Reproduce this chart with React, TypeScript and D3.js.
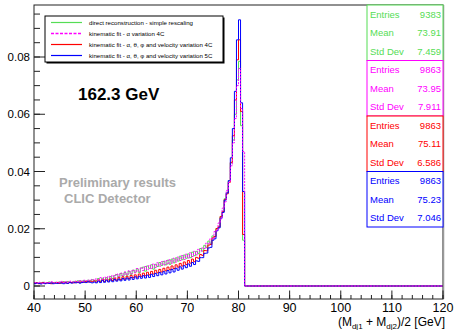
import React from "react";
import * as d3 from "d3";

const W = 454;
const H = 330;
const FONT = "'Liberation Sans', Arial, Helvetica, sans-serif";

// histogram binning (GeV)
const binStart = 40;
const binWidth = 0.4;
const xMax = 120;

// bin contents (normalised), bins of 0.4 GeV starting at 40 GeV
const greenValues = [
  0.0010, 0.0012, 0.0009, 0.0011, 0.0013, 0.0010, 0.0012, 0.0014, 0.0011, 0.0012,
  0.0013, 0.0011, 0.0014, 0.0012, 0.0015, 0.0013, 0.0016, 0.0014, 0.0012, 0.0016,
  0.0015, 0.0018, 0.0014, 0.0017, 0.0019, 0.0016, 0.0020, 0.0018, 0.0022, 0.0019,
  0.0019, 0.0026, 0.0018, 0.0027, 0.0022, 0.0029, 0.0022, 0.0033, 0.0026, 0.0036,
  0.0040, 0.0029, 0.0044, 0.0034, 0.0047, 0.0038, 0.0051, 0.0041, 0.0055, 0.0048,
  0.0060, 0.0047, 0.0063, 0.0066, 0.0052, 0.0070, 0.0062, 0.0074, 0.0059, 0.0076,
  0.0068, 0.0082, 0.0072, 0.0086, 0.0074, 0.0090, 0.0076, 0.0094, 0.0081, 0.0098,
  0.0087, 0.0104, 0.0092, 0.0108, 0.0097, 0.0112, 0.0099, 0.0118, 0.0106, 0.0121,
  0.0113, 0.0131, 0.0122, 0.0142, 0.0134, 0.0157, 0.0149, 0.0175, 0.0172, 0.0201,
  0.0205, 0.0242, 0.0260, 0.0305, 0.0326, 0.0368, 0.0430, 0.0510, 0.0600, 0.0720,
  0.0785, 0.0560, 0.0160,
];
const magentaValues = [
  0.0012, 0.0010, 0.0013, 0.0011, 0.0009, 0.0013, 0.0011, 0.0012, 0.0015, 0.0012,
  0.0011, 0.0014, 0.0013, 0.0016, 0.0012, 0.0015, 0.0013, 0.0017, 0.0015, 0.0014,
  0.0017, 0.0015, 0.0019, 0.0016, 0.0020, 0.0018, 0.0021, 0.0019, 0.0023, 0.0021,
  0.0025, 0.0019, 0.0029, 0.0022, 0.0031, 0.0023, 0.0034, 0.0027, 0.0037, 0.0029,
  0.0042, 0.0033, 0.0045, 0.0036, 0.0049, 0.0040, 0.0053, 0.0043, 0.0056, 0.0046,
  0.0061, 0.0050, 0.0064, 0.0054, 0.0068, 0.0057, 0.0072, 0.0061, 0.0077, 0.0065,
  0.0081, 0.0069, 0.0085, 0.0073, 0.0089, 0.0077, 0.0092, 0.0080, 0.0097, 0.0084,
  0.0101, 0.0089, 0.0106, 0.0093, 0.0111, 0.0098, 0.0116, 0.0103, 0.0121, 0.0109,
  0.0128, 0.0121, 0.0133, 0.0131, 0.0150, 0.0147, 0.0166, 0.0165, 0.0190, 0.0193,
  0.0220, 0.0234, 0.0272, 0.0294, 0.0334, 0.0362, 0.0420, 0.0500, 0.0585, 0.0700,
  0.0760, 0.0620, 0.0470,
];
const redValues = [
  0.0009, 0.0011, 0.0008, 0.0010, 0.0012, 0.0009, 0.0011, 0.0010, 0.0008, 0.0011,
  0.0010, 0.0012, 0.0009, 0.0011, 0.0013, 0.0011, 0.0010, 0.0013, 0.0012, 0.0011,
  0.0014, 0.0012, 0.0013, 0.0015, 0.0013, 0.0016, 0.0014, 0.0017, 0.0015, 0.0018,
  0.0014, 0.0021, 0.0015, 0.0022, 0.0016, 0.0023, 0.0017, 0.0025, 0.0019, 0.0027,
  0.0020, 0.0029, 0.0022, 0.0032, 0.0024, 0.0034, 0.0026, 0.0037, 0.0029, 0.0039,
  0.0031, 0.0042, 0.0034, 0.0045, 0.0036, 0.0048, 0.0039, 0.0051, 0.0042, 0.0055,
  0.0046, 0.0058, 0.0049, 0.0062, 0.0053, 0.0066, 0.0057, 0.0070, 0.0061, 0.0074,
  0.0066, 0.0079, 0.0070, 0.0084, 0.0075, 0.0089, 0.0080, 0.0094, 0.0085, 0.0100,
  0.0097, 0.0110, 0.0107, 0.0124, 0.0123, 0.0143, 0.0145, 0.0168, 0.0173, 0.0201,
  0.0207, 0.0243, 0.0260, 0.0302, 0.0322, 0.0362, 0.0432, 0.0525, 0.0650, 0.0790,
  0.0860, 0.0610, 0.0180,
];
const blueValues = [
  0.0008, 0.0010, 0.0009, 0.0007, 0.0010, 0.0008, 0.0010, 0.0009, 0.0011, 0.0008,
  0.0010, 0.0009, 0.0011, 0.0010, 0.0008, 0.0011, 0.0009, 0.0012, 0.0010, 0.0012,
  0.0011, 0.0013, 0.0010, 0.0012, 0.0014, 0.0012, 0.0015, 0.0013, 0.0011, 0.0014,
  0.0011, 0.0017, 0.0012, 0.0019, 0.0013, 0.0020, 0.0014, 0.0021, 0.0015, 0.0023,
  0.0017, 0.0024, 0.0018, 0.0026, 0.0020, 0.0028, 0.0021, 0.0030, 0.0023, 0.0032,
  0.0025, 0.0034, 0.0027, 0.0036, 0.0028, 0.0038, 0.0030, 0.0041, 0.0033, 0.0044,
  0.0036, 0.0047, 0.0039, 0.0050, 0.0042, 0.0054, 0.0046, 0.0058, 0.0049, 0.0062,
  0.0055, 0.0067, 0.0059, 0.0071, 0.0064, 0.0077, 0.0069, 0.0082, 0.0075, 0.0088,
  0.0086, 0.0099, 0.0099, 0.0114, 0.0115, 0.0133, 0.0135, 0.0160, 0.0165, 0.0193,
  0.0203, 0.0237, 0.0257, 0.0300, 0.0325, 0.0368, 0.0448, 0.0550, 0.0680, 0.0860,
  0.0930, 0.0640, 0.0330,
];

const seriesNames = [
  "direct reconstruction - simple rescaling",
  "kinematic fit - \u03B1 variation 4C",
  "kinematic fit - \u03B1, \u03B8, \u03C6 and velocity variation 4C",
  "kinematic fit - \u03B1, \u03B8, \u03C6 and velocity variation 5C",
];
const seriesColors = ["#55dd55", "#ff00ff", "#ff0000", "#0000ff"];
const seriesDash = [null, "2,1.2", null, null];
const seriesData = [greenValues, magentaValues, redValues, blueValues];

const statLabels = ["Entries", "Mean", "Std Dev"];
const statsGreen = ["9383", "73.91", "7.459"];
const statsMagenta = ["9863", "73.95", "7.911"];
const statsRed = ["9863", "75.11", "6.586"];
const statsBlue = ["9863", "75.23", "7.046"];
const statsAll = [statsGreen, statsMagenta, statsRed, statsBlue];

const xMajorTicks = [40, 50, 60, 70, 80, 90, 100, 110, 120];
const xMinorTicks = d3.range(40, 120.001, 2);
const yMajorTicks = [0, 0.02, 0.04, 0.06, 0.08];
const yMinorTicks = d3.range(0, 0.0981, 0.005);

const frame = { left: 34, right: 443, top: 5, bottom: 299 };

export default function App() {
  const x = d3.scaleLinear().domain([40, xMax]).range([frame.left, frame.right]);
  const y = d3.scaleLinear().domain([-0.00454, 0.09817]).range([frame.bottom, frame.top]);

  const line = d3
    .line<[number, number]>()
    .x((d) => x(d[0]))
    .y((d) => y(d[1]))
    .curve(d3.curveStepAfter);

  const pathFor = (vals: number[]) => {
    const pts: [number, number][] = vals.map((v, i) => [binStart + i * binWidth, v]);
    const endEdge = binStart + vals.length * binWidth;
    pts.push([endEdge, 0]);
    pts.push([xMax, 0]);
    return line(pts) || "";
  };

  const drawOrder = [0, 2, 3, 1];

  const statBoxTop = 5;
  const statBoxH = 55.5;
  const statLeft = 367;
  const statRight = 443;

  return (
    <svg
      width={W}
      height={H}
      style={{ position: "absolute", left: 0, top: 0, background: "#fff" }}
      fontFamily={FONT}
    >
      <rect x={0} y={0} width={W} height={H} fill="#fff" />

      {/* histograms */}
      {drawOrder.map((k) => (
        <path
          key={k}
          d={pathFor(seriesData[k])}
          fill="none"
          stroke={seriesColors[k]}
          strokeWidth={1}
          strokeDasharray={seriesDash[k] || undefined}
        />
      ))}

      {/* frame */}
      <rect
        x={frame.left}
        y={frame.top}
        width={frame.right - frame.left}
        height={frame.bottom - frame.top}
        fill="none"
        stroke="#222"
        strokeWidth={1}
      />
      <line x1={frame.right + 0.5} x2={frame.right + 0.5} y1={frame.top} y2={frame.bottom} stroke="#999" strokeWidth={1.5} />

      {/* x ticks */}
      {xMinorTicks.map((t) => (
        <line key={"xm" + t} x1={x(t)} x2={x(t)} y1={frame.bottom} y2={frame.bottom - 4} stroke="#222" />
      ))}
      {xMajorTicks.map((t) => (
        <line key={"xM" + t} x1={x(t)} x2={x(t)} y1={frame.bottom} y2={frame.bottom - 8.5} stroke="#222" />
      ))}
      {xMajorTicks.map((t) => (
        <text key={"xl" + t} x={x(t)} y={312} fontSize={12.5} textAnchor="middle" fill="#000">
          {t}
        </text>
      ))}

      {/* y ticks */}
      {yMinorTicks.map((t) => (
        <line key={"ym" + t} x1={frame.left} x2={frame.left + 6} y1={y(t)} y2={y(t)} stroke="#222" />
      ))}
      {yMajorTicks.map((t) => (
        <line key={"yM" + t} x1={frame.left} x2={frame.left + 11} y1={y(t)} y2={y(t)} stroke="#222" />
      ))}
      {yMajorTicks.map((t) => (
        <text key={"yl" + t} x={30} y={y(t) + 4} fontSize={11.5} textAnchor="end" fill="#000">
          {t === 0 ? "0" : t.toFixed(2)}
        </text>
      ))}

      {/* x-axis title */}
      <text x={445} y={325.5} fontSize={12} textAnchor="end" fill="#000">
        <tspan>(M</tspan>
        <tspan fontSize={8} dy={3.5}>dj1</tspan>
        <tspan dy={-3.5}> + M</tspan>
        <tspan fontSize={8} dy={3.5}>dj2</tspan>
        <tspan dy={-3.5}>)/2  [GeV]</tspan>
      </text>

      {/* legend */}
      <rect x={46.5} y={17.5} width={178} height={46} fill="#000" />
      <rect x={45} y={16} width={178} height={46} fill="#fff" stroke="#000" strokeWidth={1} />
      {seriesNames.map((name, i) => {
        const cy = 22.5 + i * 11;
        return (
          <g key={"lg" + i}>
            <line
              x1={51}
              x2={82}
              y1={cy}
              y2={cy}
              stroke={seriesColors[i]}
              strokeWidth={seriesDash[i] ? 1.6 : 1.2}
              strokeDasharray={seriesDash[i] ? "3,1.5" : undefined}
            />
            <text x={89} y={cy + 2.1} fontSize={6.1} fill="#000">
              {name}
            </text>
          </g>
        );
      })}

      {/* annotations */}
      <text x={78} y={100} fontSize={17} fontWeight="bold" fill="#000">
        162.3 GeV
      </text>
      <text x={59} y={187} fontSize={13} fontWeight="bold" fill="#aaaaaa">
        Preliminary results
      </text>
      <text x={64} y={203} fontSize={13} fontWeight="bold" fill="#aaaaaa">
        CLIC Detector
      </text>

      {/* stat boxes */}
      {statsAll.map((vals, k) => {
        const top = statBoxTop + k * statBoxH;
        return (
          <g key={"st" + k}>
            <rect
              x={statLeft}
              y={top}
              width={statRight - statLeft}
              height={statBoxH}
              fill="#fff"
              stroke={seriesColors[k]}
              strokeWidth={1}
            />
            {statLabels.map((lab, r) => {
              const cy = top + (statBoxH * (r + 0.5)) / 3;
              return (
                <g key={"sr" + r}>
                  <text x={statLeft + 3} y={cy + 3.4} fontSize={9.5} fill={seriesColors[k]}>
                    {lab}
                  </text>
                  <text x={statRight - 2} y={cy + 3.4} fontSize={9.5} textAnchor="end" fill={seriesColors[k]}>
                    {vals[r]}
                  </text>
                </g>
              );
            })}
          </g>
        );
      })}
    </svg>
  );
}
